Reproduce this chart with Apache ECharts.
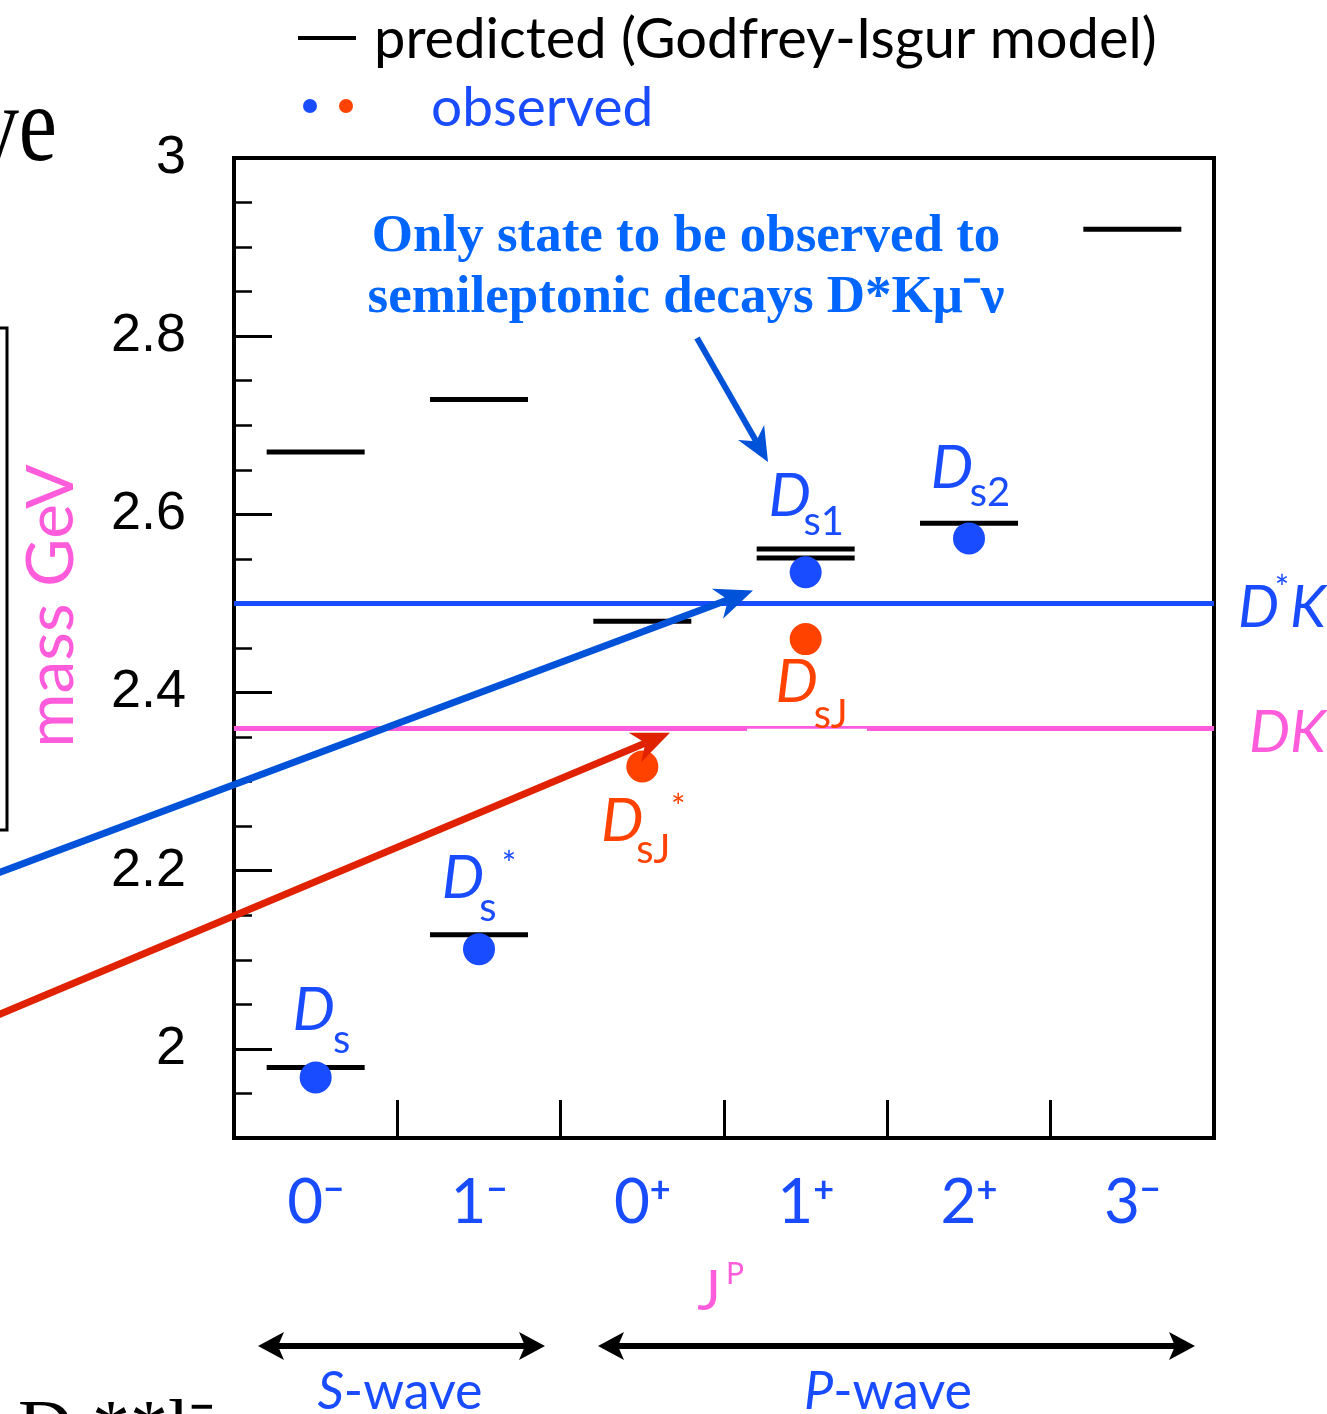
<!DOCTYPE html>
<html><head><meta charset="utf-8">
<script src="https://cdn.jsdelivr.net/npm/echarts@6/dist/echarts.min.js"></script>
<style>html,body{margin:0;padding:0;background:#fff;overflow:hidden}#c{width:1327px;height:1414px}</style>
</head><body><div id="c"></div>
<script>
// ---------- data ----------
const categories = ['0-', '1-', '0+', '1+', '2+', '3-'];
const predictedCat = [0, 0, 1, 1, 2, 3, 3, 4, 5];
const predictedMass = [1.979, 2.670, 2.128, 2.729, 2.480, 2.561, 2.551, 2.590, 2.920];
const observedBlueCat = [0, 1, 3, 4];
const observedBlueMass = [1.968, 2.112, 2.535, 2.573];
const observedBlueNames = ['D_s', 'D_s^*', 'D_s1', 'D_s2'];
const observedRedCat = [2, 3];
const observedRedMass = [2.317, 2.460];
const observedRedNames = ['D_sJ^*', 'D_sJ'];
const thresholdNames = ['D*K', 'DK'];
const thresholdMass = [2.500, 2.356];
const yTickValues = [2.0, 2.2, 2.4, 2.6, 2.8, 3.0];
const yTickLabels = ['2', '2.2', '2.4', '2.6', '2.8', '3'];
const yMajorTicks = [2.0, 2.2, 2.4, 2.6, 2.8];
const yMinorTicks = [1.95, 2.05, 2.1, 2.15, 2.25, 2.3, 2.35, 2.45, 2.5, 2.55, 2.65, 2.7, 2.75, 2.85, 2.9, 2.95];

// ---------- styles ----------
const BLUE = '#1a4cff', RED = '#ff4200', PINK = '#ff5cdc', TXTBLUE = '#0066ff';
const thresholdColors = ['#1a4cff', '#ff5cdc'];

const chart = echarts.init(document.getElementById('c'), null, {renderer: 'canvas'});

const option = {
  animation: false,
  backgroundColor: '#fff',
  grid: {left: 234, top: 158, width: 980, height: 980, show: true, borderColor: '#000', borderWidth: 4, backgroundColor: 'transparent'},
  xAxis: {
    type: 'category', data: categories, boundaryGap: true,
    axisLine: {show: false},
    axisTick: {show: true, inside: true, length: 38, interval: 0, lineStyle: {color: '#000', width: 3}},
    axisLabel: {
      margin: 34, interval: 0,
      formatter: (v) => '{n|' + v[0] + '}{p|' + (v[1] === '-' ? '\u2212' : '+') + '}',
      rich: {
        n: {fontFamily: 'Lato', fontSize: 62, color: BLUE, lineHeight: 62},
        p: {fontFamily: 'Lato', fontSize: 36, fontWeight: 'bold', color: BLUE, lineHeight: 28, verticalAlign: 'top'}
      }
    },
    splitLine: {show: false}
  },
  yAxis: [{
    type: 'value', min: 1.9, max: 3.0,
    axisLine: {show: false}, splitLine: {show: false},
    axisTick: {show: true, inside: true, length: 38, customValues: yMajorTicks, lineStyle: {color: '#000', width: 3}},
    axisLabel: {
      customValues: yTickValues, margin: 48,
      formatter: (v) => yTickLabels[yTickValues.findIndex(t => Math.abs(t - v) < 1e-6)],
      fontFamily: 'Liberation Sans', fontSize: 54, color: '#000'
    }
  }, {
    type: 'value', min: 1.9, max: 3.0, position: 'left', offset: 0,
    axisLine: {show: false}, splitLine: {show: false},
    axisTick: {show: true, inside: true, length: 18, customValues: yMinorTicks, lineStyle: {color: '#000', width: 2.5}},
    axisLabel: {show: false}
  }],
  series: [{
    type: 'custom', name: 'predicted',
    data: predictedCat.map((c, i) => [c, predictedMass[i]]),
    encode: {x: 0, y: 1},
    renderItem: (params, api) => {
      const p = api.coord([api.value(0), api.value(1)]);
      const w = api.size([1, 0])[0] * 0.6;
      return {type: 'line', shape: {x1: p[0] - w / 2, y1: p[1], x2: p[0] + w / 2, y2: p[1]}, style: {stroke: '#000', lineWidth: 5}};
    },
    markLine: {
      silent: true, symbol: ['none', 'none'], label: {show: false},
      data: thresholdMass.map((v, i) => ({yAxis: v, lineStyle: {color: thresholdColors[i], width: 5, type: 'solid'}}))
    },
    z: 3
  }, {
    type: 'scatter', name: 'observed (blue)',
    data: observedBlueCat.map((c, i) => [c, observedBlueMass[i]]),
    symbolSize: 32, itemStyle: {color: BLUE, opacity: 1}, z: 4
  }, {
    type: 'scatter', name: 'observed (red)',
    data: observedRedCat.map((c, i) => [c, observedRedMass[i]]),
    symbolSize: 32, itemStyle: {color: RED, opacity: 1}, z: 4
  }]
};
chart.setOption(option);

// ---------- annotations ----------
const px = (c, v) => chart.convertToPixel({xAxisIndex: 0, yAxisIndex: 0}, [c, v]);
const G = [];
function txt(x, y, text, font, fill, extra) {
  const e = Object.assign({type: 'text', x: x, y: y, z: 50, silent: true,
    style: {text: text, font: font, fill: fill, align: 'center', verticalAlign: 'middle'}}, extra || {});
  if (extra && extra.style) e.style = Object.assign({text: text, font: font, fill: fill, align: 'center', verticalAlign: 'middle'}, extra.style);
  G.push(e);
}
function arrow(x0, y0, x1, y1, color, lw, L, W) {
  const dx = x1 - x0, dy = y1 - y0, len = Math.hypot(dx, dy);
  const ux = dx / len, uy = dy / len, nx = -uy, ny = ux;
  const bx = x1 - ux * L, by = y1 - uy * L;
  const mx = x1 - ux * L * 0.7, my = y1 - uy * L * 0.7;
  G.push({type: 'line', z: 40, silent: true, shape: {x1: x0, y1: y0, x2: mx, y2: my}, style: {stroke: color, lineWidth: lw}});
  G.push({type: 'polygon', z: 40, silent: true, shape: {points: [[x1, y1], [bx + nx * W, by + ny * W], [mx, my], [bx - nx * W, by - ny * W]]}, style: {fill: color}});
}
function dblArrow(xa, xb, y, color) {
  G.push({type: 'line', z: 40, silent: true, shape: {x1: xa + 18, y1: y, x2: xb - 18, y2: y}, style: {stroke: color, lineWidth: 6}});
  G.push({type: 'polygon', z: 40, silent: true, shape: {points: [[xa, y], [xa + 26, y - 14], [xa + 20, y], [xa + 26, y + 14]]}, style: {fill: color}});
  G.push({type: 'polygon', z: 40, silent: true, shape: {points: [[xb, y], [xb - 26, y - 14], [xb - 20, y], [xb - 26, y + 14]]}, style: {fill: color}});
}

// legend
G.push({type: 'line', z: 40, silent: true, shape: {x1: 298, y1: 38, x2: 356, y2: 38}, style: {stroke: '#000', lineWidth: 4}});
txt(374, 40, 'predicted (Godfrey-Isgur model)', '56px Lato', '#000', {style: {align: 'left'}});
G.push({type: 'circle', z: 40, silent: true, shape: {cx: 310, cy: 106, r: 7}, style: {fill: BLUE}});
G.push({type: 'circle', z: 40, silent: true, shape: {cx: 346, cy: 106, r: 7}, style: {fill: RED}});
txt(431, 108, 'observed', '55px Lato', BLUE, {style: {align: 'left'}});

// slide fragments at the edges
txt(57, 132, 've', '86px "Liberation Serif"', '#000', {scaleY: 1.25, style: {align: 'right'}});
G.push({type: 'rect', z: 40, silent: true, shape: {x: -20, y: 328, width: 27, height: 502}, style: {fill: 'none', stroke: '#000', lineWidth: 3}});
txt(18, 1432, 'D **l\u207B\u03BD', '76px "Liberation Serif"', '#000', {style: {align: 'left'}});

// y-axis title
txt(52, 606, 'mass GeV', '66px Lato', PINK, {rotation: Math.PI / 2});

// annotation text + arrow
txt(686, 237, 'Only state to be observed to', 'bold 53px "Liberation Serif"', TXTBLUE);
txt(686, 298, 'semileptonic decays D*K\u03BC\u207B\u03BD', 'bold 53px "Liberation Serif"', TXTBLUE);
arrow(697, 338, 768, 462, '#0052d9', 6, 34, 15);

// threshold labels
const yDsK = px(0, thresholdMass[0])[1];
const yDK = px(0, thresholdMass[1])[1];
txt(1238, yDsK + 5, 'D', 'italic 58px Lato', BLUE, {style: {align: 'left'}});
txt(1282, yDsK - 14, '*', '34px Lato', BLUE);
txt(1290, yDsK + 5, 'K', 'italic 58px Lato', BLUE, {style: {align: 'left'}});
txt(1249, yDK + 2, 'DK', 'italic 58px Lato', PINK, {style: {align: 'left'}});
// small white notch over the DK line behind the D_sJ label
G.push({type: 'rect', z: 30, silent: true, shape: {x: 747, y: yDK - 3, width: 120, height: 2.5}, style: {fill: '#fff'}});

// long arrows to thresholds
arrow(-2, 873, 753, yDsK - 13, '#0052d9', 7, 38, 16);
arrow(-2, 1015, 670, yDK + 1, '#e02200', 7, 38, 16);

// state labels: offsets of D, subscript, superscript from the point
const labelOffsets = {
  'D_s':    {D: [-2, -67], s: [26, -37]},
  'D_s^*':  {D: [-16, -70], s: [9, -41], t: [30, -84]},
  'D_s1':   {D: [-16, -76], s: [18, -50]},
  'D_s2':   {D: [-17, -70], s: [21, -45]},
  'D_sJ^*': {D: [-20, 55], s: [11, 84], t: [36, 42]},
  'D_sJ':   {D: [-9, 44], s: [25, 76]}
};
function stateLabel(name, p, color) {
  const o = labelOffsets[name];
  const sub = name.split('_')[1].replace('^*', '');
  txt(p[0] + o.D[0], p[1] + o.D[1], 'D', 'italic 60px Lato', color);
  txt(p[0] + o.s[0], p[1] + o.s[1], sub, '40px Lato', color);
  if (o.t) txt(p[0] + o.t[0], p[1] + o.t[1], '*', '34px Lato', color);
}
observedBlueNames.forEach((n, i) => stateLabel(n, px(observedBlueCat[i], observedBlueMass[i]), BLUE));
observedRedNames.forEach((n, i) => stateLabel(n, px(observedRedCat[i], observedRedMass[i]), RED));

// J^P
txt(709, 1292, 'J', '56px Lato', PINK);
txt(735, 1274, 'P', '30px Lato', PINK);

// S-wave / P-wave
dblArrow(258, 545, 1346, '#000');
dblArrow(598, 1195, 1346, '#000');
txt(400, 1392, '{i|S}-wave', '52px Lato', BLUE, {style: {rich: {i: {fontStyle: 'italic', fontFamily: 'Lato', fontSize: 52, fill: BLUE}}}});
txt(888, 1392, '{i|P}-wave', '52px Lato', BLUE, {style: {rich: {i: {fontStyle: 'italic', fontFamily: 'Lato', fontSize: 52, fill: BLUE}}}});

chart.setOption({graphic: G});
</script>
</body></html>
